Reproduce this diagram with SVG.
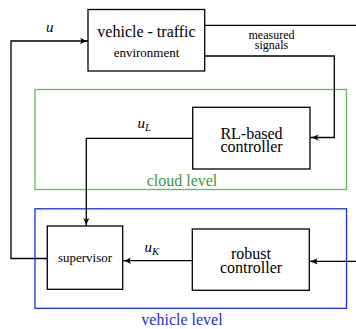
<svg xmlns="http://www.w3.org/2000/svg" width="356" height="329" viewBox="0 0 356 329" font-family="Liberation Serif, Times New Roman, serif">
<defs>
<marker id="arr" viewBox="0 0 10 10" refX="10" refY="5" markerWidth="8" markerHeight="8" markerUnits="userSpaceOnUse" orient="auto">
<path d="M0,1 Q5,4 10,5 Q5,6 0,9 Q3,5 0,1 Z" fill="#000"/>
</marker>
</defs>
<rect width="356" height="329" fill="#fff"/>
<g id="cloud">
<rect x="35" y="89.5" width="311.5" height="100" fill="none" stroke="#5cc24a" stroke-width="1.3"/>
<text x="182" y="186" font-size="16" text-anchor="middle" fill="#3d9a3a" font-family="Liberation Serif, Times New Roman, serif">cloud level</text>
</g>
<g id="vehicleLevel">
<rect x="35" y="208.8" width="311.5" height="99.5" fill="none" stroke="#1a2fe0" stroke-width="1.3"/>
<text x="182" y="325" font-size="16" text-anchor="middle" fill="#1a2fe0" font-family="Liberation Serif, Times New Roman, serif">vehicle level</text>
</g>
<g id="connectors" fill="none" stroke="#000" stroke-width="1.3">
<line x1="205" y1="25.3" x2="356" y2="25.3"/>
<polyline points="205,56 334.3,56 334.3,137.5 310.5,137.5" marker-end="url(#arr)"/>
<polyline points="47.3,258.5 11,258.5 11,41 88,41" marker-end="url(#arr)"/>
<polyline points="192.7,138.3 86.3,138.3 86.3,226" marker-end="url(#arr)"/>
<line x1="192.3" y1="260.7" x2="123" y2="260.7" marker-end="url(#arr)"/>
<line x1="356" y1="261.3" x2="309.6" y2="261.3" marker-end="url(#arr)"/>
</g>
<g id="labels" fill="#000">
<text x="46" y="32" font-size="15" font-style="italic" font-family="Liberation Serif, Times New Roman, serif">u</text>
<text x="271.5" y="39.3" font-size="12" text-anchor="middle" font-family="Liberation Serif, Times New Roman, serif">measured</text>
<text x="271.5" y="49" font-size="12" text-anchor="middle" font-family="Liberation Serif, Times New Roman, serif">signals</text>
<text x="137.5" y="128" font-size="15" font-style="italic" font-family="Liberation Serif, Times New Roman, serif">u<tspan font-size="10.5" dy="2.5">L</tspan></text>
<text x="144.5" y="252" font-size="15" font-style="italic" font-family="Liberation Serif, Times New Roman, serif">u<tspan font-size="10.5" dy="2.5">K</tspan></text>
</g>
<g id="env">
<rect x="88" y="9.5" width="116.7" height="61.5" fill="#fff" stroke="#000" stroke-width="1.3"/>
<text x="146.5" y="37" font-size="16" text-anchor="middle" font-family="Liberation Serif, Times New Roman, serif">vehicle - traffic</text>
<text x="146.5" y="57" font-size="13" text-anchor="middle" font-family="Liberation Serif, Times New Roman, serif">environment</text>
</g>
<g id="rl">
<rect x="192.7" y="107.3" width="117.3" height="61.7" fill="#fff" stroke="#000" stroke-width="1.3"/>
<text x="251.5" y="139.3" font-size="16" text-anchor="middle" font-family="Liberation Serif, Times New Roman, serif">RL-based</text>
<text x="251.5" y="152" font-size="16" text-anchor="middle" font-family="Liberation Serif, Times New Roman, serif">controller</text>
</g>
<g id="supervisor">
<rect x="47.3" y="226" width="75.4" height="63.3" fill="#fff" stroke="#000" stroke-width="1.3"/>
<text x="85" y="261.7" font-size="13" text-anchor="middle" font-family="Liberation Serif, Times New Roman, serif">supervisor</text>
</g>
<g id="robust">
<rect x="192.3" y="229" width="117" height="61.3" fill="#fff" stroke="#000" stroke-width="1.3"/>
<text x="251" y="259.3" font-size="16" text-anchor="middle" font-family="Liberation Serif, Times New Roman, serif">robust</text>
<text x="251" y="272.7" font-size="16" text-anchor="middle" font-family="Liberation Serif, Times New Roman, serif">controller</text>
</g>
</svg>
